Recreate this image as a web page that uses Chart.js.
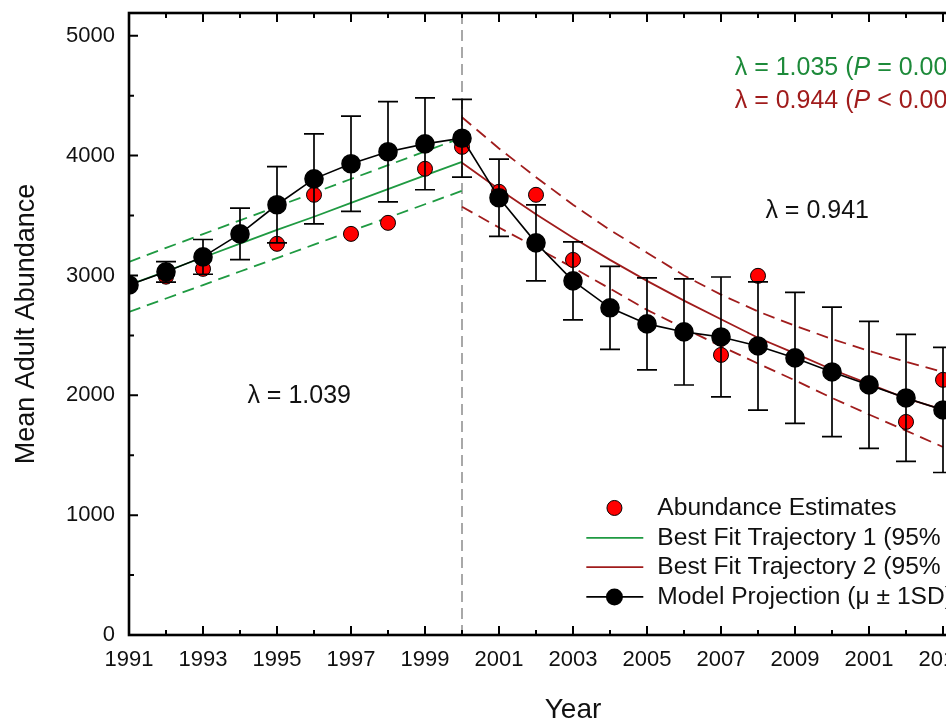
<!DOCTYPE html>
<html>
<head>
<meta charset="utf-8">
<script src="https://cdn.jsdelivr.net/npm/chart.js@4.4.1/dist/chart.umd.min.js"></script>
<style>
  html, body { margin: 0; padding: 0; background: #fff; overflow: hidden; }
  #wrap { width: 1042px; height: 727px; }
</style>
</head>
<body>
<div id="wrap"><canvas id="popChart" width="1042" height="727"></canvas></div>
<script>
// data
const years = [1991, 1992, 1993, 1994, 1995, 1996, 1997, 1998, 1999, 2000, 2001, 2002,
               2003, 2004, 2005, 2006, 2007, 2008, 2009, 2010, 2011, 2012, 2013];
const modelMean = [2920, 3030, 3155, 3347, 3590, 3806, 3932, 4032, 4098, 4145, 3648, 3272,
                   2955, 2730, 2596, 2529, 2487, 2412, 2312, 2195, 2087, 1978, 1878];
const modelSD = [null, 85, 145, 215, 318, 375, 397, 418, 383, 325, 322, 317,
                 325, 346, 384, 443, 500, 535, 547, 540, 530, 530, 522];
const estimates = [2920, 2990, 3055, null, 3264, 3673, 3347, 3439, 3890, 4073, 3698, 3673,
                   3130, null, null, null, 2337, 2997, null, null, null, 1778, 2129];

const fit1Years = [1991, 1992, 1993, 1994, 1995, 1996, 1997, 1998, 1999, 2000];
const fit1 = [2921, 3035, 3150, 3265, 3380, 3490, 3605, 3720, 3835, 3948];
const fit1Upper = [3113, 3230, 3345, 3460, 3575, 3690, 3805, 3920, 4035, 4150];
const fit1Lower = [2696, 2808, 2920, 3033, 3145, 3257, 3370, 3482, 3594, 3706];

const fit2Years = [2000, 2001, 2002, 2003, 2004, 2005, 2006, 2007, 2008, 2009, 2010, 2011, 2012, 2013];
const fit2 = [3940, 3720, 3510, 3315, 3130, 2955, 2790, 2635, 2480, 2350, 2215, 2095, 1975, 1880];
const fit2Upper = [4320, 4060, 3820, 3590, 3380, 3190, 3000, 2840, 2700, 2580, 2470, 2370, 2280, 2195];
const fit2Lower = [3573, 3400, 3235, 3065, 2890, 2713, 2560, 2410, 2265, 2125, 1978, 1840, 1705, 1569];

const xTickYears = [1991, 1993, 1995, 1997, 1999, 2001, 2003, 2005, 2007, 2009, 2011, 2013, 2015];
const xTickLabels = ['1991', '1993', '1995', '1997', '1999', '2001', '2003', '2005', '2007', '2009', '2001', '2013', '2015'];
const yTicks = [0, 1000, 2000, 3000, 4000, 5000];

const GREEN = '#1f9a42';
const GREEN_TXT = '#1d8a3a';
const RED = '#a01c1c';
const FONT = 'Arial, "Liberation Sans", sans-serif';

const pts = (xs, ys) => xs.map((x, i) => ({ x: x, y: ys[i] }));

// frame, inward ticks, break line, error bars
const decor = {
  id: 'decor',
  beforeDatasetsDraw(chart) {
    const { ctx, chartArea: ca, scales: { x } } = chart;
    const px = x.getPixelForValue(2000);
    ctx.save();
    ctx.strokeStyle = '#a8a8a8';
    ctx.lineWidth = 2;
    ctx.setLineDash([11, 6]);
    ctx.beginPath();
    ctx.moveTo(px, ca.top);
    ctx.lineTo(px, ca.bottom);
    ctx.stroke();
    ctx.restore();
  },
  afterDatasetsDraw(chart) {
    const { ctx, chartArea: ca, scales: { x, y } } = chart;
    ctx.save();
    // error bars
    ctx.strokeStyle = '#000';
    ctx.lineWidth = 1.7;
    years.forEach((yr, i) => {
      if (modelSD[i] == null) return;
      const px = x.getPixelForValue(yr);
      const top = y.getPixelForValue(modelMean[i] + modelSD[i]);
      const bot = y.getPixelForValue(modelMean[i] - modelSD[i]);
      ctx.beginPath();
      ctx.moveTo(px, top); ctx.lineTo(px, bot);
      ctx.moveTo(px - 10, top); ctx.lineTo(px + 10, top);
      ctx.moveTo(px - 10, bot); ctx.lineTo(px + 10, bot);
      ctx.stroke();
    });
    // frame
    ctx.lineWidth = 2.6;
    ctx.strokeRect(ca.left, ca.top, ca.right - ca.left, ca.bottom - ca.top);
    ctx.lineWidth = 2;
    for (let yr = 1991; yr <= 2015; yr++) {
      const px = x.getPixelForValue(yr);
      const len = (yr % 2 === 1) ? 9 : 5;
      ctx.beginPath();
      ctx.moveTo(px, ca.bottom); ctx.lineTo(px, ca.bottom - len);
      ctx.moveTo(px, ca.top); ctx.lineTo(px, ca.top + len);
      ctx.stroke();
    }
    for (let v = 0; v <= 5000; v += 500) {
      const py = y.getPixelForValue(v);
      const len = (v % 1000 === 0) ? 9 : 5;
      ctx.beginPath();
      ctx.moveTo(ca.left, py); ctx.lineTo(ca.left + len, py);
      ctx.moveTo(ca.right, py); ctx.lineTo(ca.right - len, py);
      ctx.stroke();
    }
    ctx.restore();
  },
  afterDraw(chart) {
    const { ctx, scales: { x, y } } = chart;
    ctx.save();
    ctx.textBaseline = 'middle';
    ctx.textAlign = 'left';

    // text made of plain/italic runs
    const runs = (parts, xv, yv, color) => {
      let cx = x.getPixelForValue(xv);
      const cy = y.getPixelForValue(yv);
      ctx.fillStyle = color;
      parts.forEach(([t, it]) => {
        ctx.font = (it ? 'italic ' : '') + '25px ' + FONT;
        ctx.fillText(t, cx, cy);
        cx += ctx.measureText(t).width;
      });
    };
    runs([['\u03bb = 1.035 (', 0], ['P', 1], [' = 0.001)', 0]], 2007.37, 4733, GREEN_TXT);
    runs([['\u03bb = 0.944 (', 0], ['P', 1], [' < 0.001)', 0]], 2007.37, 4457, RED);
    runs([['\u03bb = 0.941', 0]], 2008.2, 3539, '#111');
    runs([['\u03bb = 1.039', 0]], 1994.2, 1995, '#111');

    // legend
    const rows = [
      { label: 'Abundance Estimates', kind: 'dot' },
      { label: 'Best Fit Trajectory 1 (95% CI)', kind: 'line', color: GREEN },
      { label: 'Best Fit Trajectory 2 (95% CI)', kind: 'line', color: RED },
      { label: 'Model Projection (\u03bc \u00b1 1SD)', kind: 'model' }
    ];
    const rowVals = [1060, 810, 566, 318];
    const x0 = x.getPixelForValue(2003.36), x1 = x.getPixelForValue(2004.9);
    const xm = x.getPixelForValue(2004.12), xt = x.getPixelForValue(2005.28);
    rows.forEach((r, i) => {
      const py = y.getPixelForValue(rowVals[i]);
      if (r.kind === 'dot') {
        ctx.beginPath();
        ctx.arc(xm, py, 7.5, 0, Math.PI * 2);
        ctx.fillStyle = '#f00'; ctx.fill();
        ctx.strokeStyle = '#000'; ctx.lineWidth = 1; ctx.stroke();
      } else {
        ctx.strokeStyle = r.kind === 'model' ? '#000' : r.color;
        ctx.lineWidth = r.kind === 'model' ? 1.6 : 1.8;
        ctx.beginPath(); ctx.moveTo(x0, py); ctx.lineTo(x1, py); ctx.stroke();
        if (r.kind === 'model') {
          ctx.beginPath(); ctx.arc(xm, py, 8.5, 0, Math.PI * 2);
          ctx.fillStyle = '#000'; ctx.fill();
        }
      }
      ctx.fillStyle = '#111';
      ctx.font = '24.6px ' + FONT;
      ctx.fillText(r.label, xt, py);
    });
    ctx.restore();
  }
};

const lineDs = (label, xs, ys, color, dashed) => ({
  label: label,
  data: pts(xs, ys),
  borderColor: color,
  borderWidth: 1.8,
  borderDash: dashed ? [12, 7] : [],
  pointRadius: 0,
  fill: false,
  order: 3
});

new Chart(document.getElementById('popChart'), {
  type: 'line',
  data: {
    datasets: [
      lineDs('Fit 1', fit1Years, fit1, GREEN, false),
      lineDs('Fit 1 upper', fit1Years, fit1Upper, GREEN, true),
      lineDs('Fit 1 lower', fit1Years, fit1Lower, GREEN, true),
      lineDs('Fit 2', fit2Years, fit2, RED, false),
      lineDs('Fit 2 upper', fit2Years, fit2Upper, RED, true),
      lineDs('Fit 2 lower', fit2Years, fit2Lower, RED, true),
      {
        label: 'Abundance Estimates',
        data: pts(years, estimates).filter(p => p.y != null),
        showLine: false,
        pointRadius: 7.5,
        pointBackgroundColor: '#ff0000',
        pointBorderColor: '#000',
        pointBorderWidth: 1,
        order: 2
      },
      {
        label: 'Model Projection',
        data: pts(years, modelMean),
        borderColor: '#000',
        borderWidth: 1.6,
        pointRadius: 9,
        pointBackgroundColor: '#000',
        pointBorderColor: '#000',
        order: 1
      }
    ]
  },
  options: {
    responsive: false,
    animation: false,
    devicePixelRatio: 1,
    layout: { padding: { top: 13, right: 25, left: 0, bottom: 0 } },
    plugins: { legend: { display: false }, tooltip: { enabled: false } },
    scales: {
      x: {
        type: 'linear',
        min: 1991,
        max: 2015,
        grid: { display: false, drawTicks: false },
        border: { display: false },
        afterBuildTicks: s => { s.ticks = xTickYears.map(v => ({ value: v })); },
        afterFit: s => { s.height = 92; s.paddingLeft = 0; s.paddingRight = 0; },
        ticks: {
          autoSkip: false,
          maxRotation: 0,
          padding: 12,
          color: '#111',
          font: { family: FONT, size: 22 },
          callback: v => xTickLabels[xTickYears.indexOf(v)]
        },
        title: { display: true, text: 'Year', color: '#111', font: { family: FONT, size: 28 }, padding: 0 }
      },
      y: {
        min: 0,
        max: 5190,
        grid: { display: false, drawTicks: false },
        border: { display: false },
        afterBuildTicks: s => { s.ticks = yTicks.map(v => ({ value: v })); },
        afterFit: s => { s.width = 129; s.paddingTop = 0; s.paddingBottom = 0; },
        ticks: {
          padding: 14,
          color: '#111',
          font: { family: FONT, size: 22 },
          callback: v => String(v)
        },
        title: { display: true, text: 'Mean Adult Abundance', color: '#111', font: { family: FONT, size: 27 }, padding: { top: 10, bottom: 0 } }
      }
    }
  },
  plugins: [decor]
});
</script>
</body>
</html>
